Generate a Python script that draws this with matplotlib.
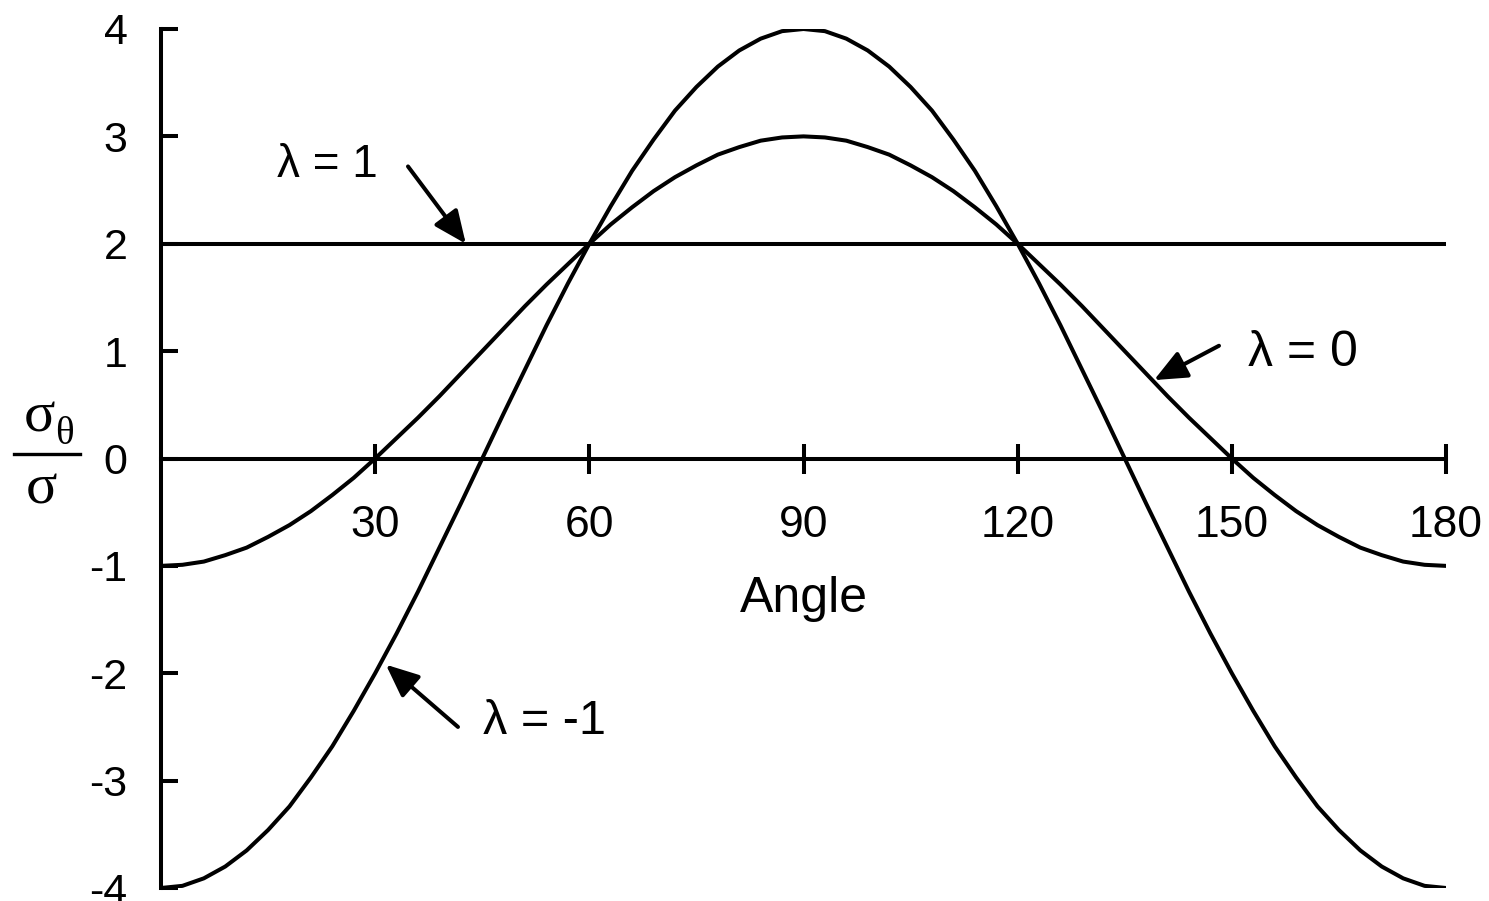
import matplotlib
matplotlib.use("Agg")
import matplotlib.pyplot as plt
from matplotlib.lines import Line2D

# ---- data ----
angles = list(range(0, 181, 3))
lam0 = [-1.00, -0.99, -0.96, -0.90, -0.83, -0.73, -0.62, -0.49, -0.34, -0.18, 0.00,
        0.19, 0.38, 0.58, 0.79, 1.00, 1.21, 1.42, 1.62, 1.81, 2.00,
        2.18, 2.34, 2.49, 2.62, 2.73, 2.83, 2.90, 2.96, 2.99, 3.00,
        2.99, 2.96, 2.90, 2.83, 2.73, 2.62, 2.49, 2.34, 2.18, 2.00,
        1.81, 1.62, 1.42, 1.21, 1.00, 0.79, 0.58, 0.38, 0.19, 0.00,
        -0.18, -0.34, -0.49, -0.62, -0.73, -0.83, -0.90, -0.96, -0.99, -1.00]
lamm1 = [-4.00, -3.98, -3.91, -3.80, -3.65, -3.46, -3.24, -2.97, -2.68, -2.35, -2.00,
         -1.63, -1.24, -0.83, -0.42, 0.00, 0.42, 0.83, 1.24, 1.63, 2.00,
         2.35, 2.68, 2.97, 3.24, 3.46, 3.65, 3.80, 3.91, 3.98, 4.00,
         3.98, 3.91, 3.80, 3.65, 3.46, 3.24, 2.97, 2.68, 2.35, 2.00,
         1.63, 1.24, 0.83, 0.42, 0.00, -0.42, -0.83, -1.24, -1.63, -2.00,
         -2.35, -2.68, -2.97, -3.24, -3.46, -3.65, -3.80, -3.91, -3.98, -4.00]
lam1_x = [0, 180]
lam1 = [2.00, 2.00]
xticks = [30, 60, 90, 120, 150, 180]
yticks = [-4, -3, -2, -1, 0, 1, 2, 3, 4]

plt.rcParams['font.family'] = ['Liberation Sans', 'DejaVu Sans']

W, H = 1489, 901
fig = plt.figure(figsize=(W / 100, H / 100), dpi=100)
ax = fig.add_axes([161 / W, 1 - 888 / H, (1446 - 161) / W, (888 - 29) / H])


def fx(px):
    return px / W


def fy(py):
    return 1 - py / H


lw = 2.9
ax.plot(lam1_x, lam1, color='black', lw=lw)
ax.plot(angles, lam0, color='black', lw=lw)
ax.plot(angles, lamm1, color='black', lw=lw)

ax.set_xlim(0, 180)
ax.set_ylim(-4, 4)
ax.spines['top'].set_visible(False)
ax.spines['right'].set_visible(False)
ax.spines['bottom'].set_position(('data', 0))
ax.spines['left'].set_linewidth(lw)
ax.spines['bottom'].set_linewidth(lw)
ax.spines['left'].set_capstyle('projecting')

ax.set_xticks(xticks)
ax.set_xticklabels([str(v) for v in xticks])
ax.set_yticks(yticks)
ax.set_yticklabels([str(v) for v in yticks])
ax.tick_params(axis='x', direction='inout', length=21, width=lw, labelsize=32, pad=23)
ax.tick_params(axis='y', direction='in', length=12, width=lw, labelsize=31, pad=24)

ax.text(90, -1.31, 'Angle', ha='center', va='center', fontsize=36)

arrow = dict(arrowstyle='-|>,head_length=0.8,head_width=0.35', color='black', lw=lw,
             mutation_scale=25, shrinkA=0, shrinkB=0)
ax.annotate('', xy=(42.7, 2.0), xytext=(34.6, 2.72), arrowprops=arrow)
ax.text(23.3, 2.73, 'λ = 1', ha='center', va='center', fontsize=33)

ax.annotate('', xy=(139.1, 0.73), xytext=(148.2, 1.05), arrowprops=arrow)
ax.text(160.0, 0.98, 'λ = 0', ha='center', va='center', fontsize=36)

ax.annotate('', xy=(31.5, -1.92), xytext=(41.6, -2.50), arrowprops=arrow)
ax.text(53.7, -2.45, 'λ = -1', ha='center', va='center', fontsize=35)

# y-axis label: sigma_theta / sigma as a stacked fraction
serif = ['Liberation Serif', 'DejaVu Serif']
fig.text(fx(39), fy(431), 'σ', ha='center', va='baseline', fontsize=42, family=serif)
fig.text(fx(64), fy(444), 'θ', ha='center', va='baseline', fontsize=28, family=serif)
fig.add_artist(Line2D([fx(14), fx(80)], [fy(454), fy(454)], color='black', lw=2.4,
                      transform=fig.transFigure))
fig.text(fx(42), fy(504), 'σ', ha='center', va='baseline', fontsize=42, family=serif)

fig.savefig('out.png', dpi=100)
